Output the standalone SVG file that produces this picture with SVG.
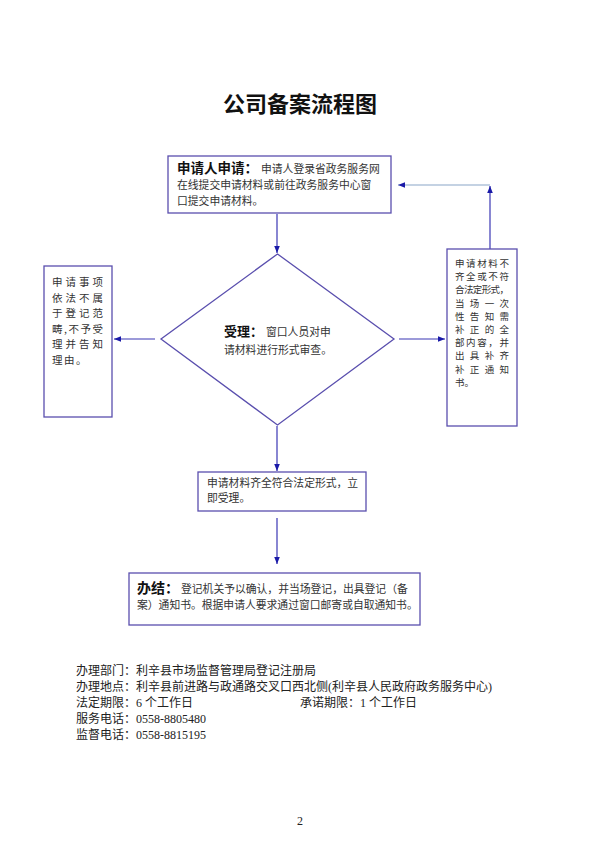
<svg xmlns="http://www.w3.org/2000/svg" width="600" height="849" viewBox="0 0 600 849">
<style>
.box{fill:#fff;stroke:#5a4fae;stroke-width:1.3}
.ln{fill:none;stroke:#3a36b4;stroke-width:1.2}
.ln2{fill:none;stroke:#8aa6c8;stroke-width:1.2}
.t{font-family:"Noto Sans CJK SC","Noto Sans",sans-serif;fill:#333}
.b{font-family:"Noto Sans CJK SC","Noto Sans",sans-serif;font-weight:bold;fill:#111}
.s{font-size:10.8px}
.f{font-family:"Liberation Serif","Noto Sans CJK SC",serif;font-size:12px;fill:#222}
</style>
<defs>
<marker id="ah" viewBox="0 0 10 10" refX="10" refY="5" markerWidth="7" markerHeight="7" markerUnits="userSpaceOnUse" orient="auto">
<path d="M0,1 L10,5 L0,9 z" fill="#1a1aa8"/>
</marker>
</defs>
<rect width="600" height="849" fill="#fff"/>
<text x="300" y="112" text-anchor="middle" class="b" font-size="22">公司备案流程图</text>

<g id="connectors">
<line class="ln" x1="277" y1="214" x2="277" y2="253" marker-end="url(#ah)"/>
<line class="ln" x1="155" y1="339" x2="114" y2="339" marker-end="url(#ah)"/>
<line class="ln" x1="399" y1="339" x2="445" y2="339" marker-end="url(#ah)"/>
<line class="ln" x1="277" y1="426" x2="277" y2="471" marker-end="url(#ah)"/>
<line class="ln" x1="277" y1="518" x2="277" y2="564" marker-end="url(#ah)"/>
<line class="ln" x1="490" y1="249" x2="490" y2="186" marker-end="url(#ah)"/>
<line class="ln2" x1="490" y1="185" x2="398" y2="185" marker-end="url(#ah)"/>
</g>

<g id="apply">
<rect class="box" x="168" y="156" width="223" height="57"/>
<text x="177" y="173" class="t"><tspan class="b" font-size="13.5">申请人申请：</tspan><tspan class="s" dx="3">申请人登录省政务服务网</tspan></text>
<text x="177" y="189" class="t s">在线提交申请材料或前往政务服务中心窗</text>
<text x="177" y="205" class="t s">口提交申请材料。</text>
</g>

<g id="accept">
<polygon class="box" points="277.5,254 394,339 277.5,425 161,339"/>
<text x="224" y="336" class="t"><tspan class="b" font-size="13">受理：</tspan><tspan class="s" dx="3">窗口人员对申</tspan></text>
<text x="224" y="354" class="t s">请材料进行形式审查。</text>
</g>

<g id="reject">
<rect class="box" x="44" y="266" width="68" height="151"/>
<g class="t" font-size="10.5">
<text x="52" y="286" textLength="51" lengthAdjust="spacing">申请事项</text>
<text x="52" y="301.5" textLength="51" lengthAdjust="spacing">依法不属</text>
<text x="52" y="317" textLength="51" lengthAdjust="spacing">于登记范</text>
<text x="52" y="332.5" textLength="51" lengthAdjust="spacing">畴,不予受</text>
<text x="52" y="348" textLength="51" lengthAdjust="spacing">理并告知</text>
<text x="52" y="363.5" letter-spacing="1.5">理由。</text>
</g>
</g>

<g id="supplement">
<rect class="box" x="447" y="249" width="70" height="177"/>
<g class="t" font-size="9.5">
<text x="455" y="267" textLength="54" lengthAdjust="spacing">申请材料不</text>
<text x="455" y="280.2" textLength="54" lengthAdjust="spacing">齐全或不符</text>
<text x="455" y="293.4" textLength="54" lengthAdjust="spacing">合法定形式，</text>
<text x="455" y="306.6" textLength="54" lengthAdjust="spacing">当场一次</text>
<text x="455" y="319.8" textLength="54" lengthAdjust="spacing">性告知需</text>
<text x="455" y="333" textLength="54" lengthAdjust="spacing">补正的全</text>
<text x="455" y="346.2" textLength="54" lengthAdjust="spacing">部内容，并</text>
<text x="455" y="359.4" textLength="54" lengthAdjust="spacing">出具补齐</text>
<text x="455" y="372.6" textLength="54" lengthAdjust="spacing">补正通知</text>
<text x="455" y="385.8">书。</text>
</g>
</g>

<g id="accepted">
<rect class="box" x="198" y="472" width="168" height="39"/>
<text x="207" y="487" class="t s">申请材料齐全符合法定形式，立</text>
<text x="207" y="502" class="t s">即受理。</text>
</g>

<g id="finish">
<rect class="box" x="129" y="573" width="291" height="52"/>
<text x="137" y="593" class="t"><tspan class="b" font-size="14">办结：</tspan><tspan class="s" dx="2">登记机关予以确认，并当场登记，出具登记（备</tspan></text>
<text x="137" y="609" class="t s">案）通知书。根据申请人要求通过窗口邮寄或自取通知书。</text>
</g>

<g id="footer">
<text x="76" y="675" class="f">办理部门：利辛县市场监督管理局登记注册局</text>
<text x="76" y="691" class="f">办理地点：利辛县前进路与政通路交叉口西北侧(利辛县人民政府政务服务中心)</text>
<text x="76" y="707" class="f">法定期限：6 个工作日</text>
<text x="300" y="707" class="f">承诺期限：1 个工作日</text>
<text x="76" y="723" class="f">服务电话：0558-8805480</text>
<text x="76" y="739" class="f">监督电话：0558-8815195</text>
<text x="300" y="825" text-anchor="middle" class="f" font-size="9">2</text>
</g>
</svg>
